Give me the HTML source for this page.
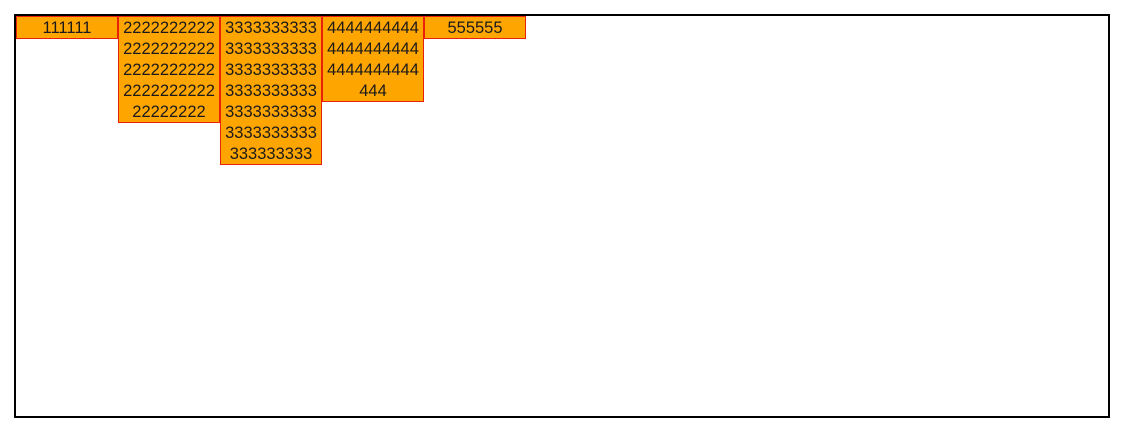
<!DOCTYPE html>
<html><head><style>
html,body{margin:0;padding:0;background:#fff;width:1136px;height:435px;overflow:hidden}
.c{position:absolute;left:14px;top:14px;width:1092px;height:400px;border:2px solid #000}
.b{position:absolute;top:0;width:100px;border:1px solid #e8200c;background:#ffa500;color:#1a1a1a;font-family:"Liberation Sans",sans-serif;font-size:16.5px;line-height:21px;text-align:center;white-space:nowrap;overflow:hidden}
.b span{position:relative;top:1px}
</style></head><body>
<div class="c">
<div class="b" style="left:0"><span>111111</span></div>
<div class="b" style="left:102px"><span>2222222222<br>2222222222<br>2222222222<br>2222222222<br>22222222</span></div>
<div class="b" style="left:204px"><span>3333333333<br>3333333333<br>3333333333<br>3333333333<br>3333333333<br>3333333333<br>333333333</span></div>
<div class="b" style="left:306px"><span>4444444444<br>4444444444<br>4444444444<br>444</span></div>
<div class="b" style="left:408px"><span>555555</span></div>
</div>
</body></html>
